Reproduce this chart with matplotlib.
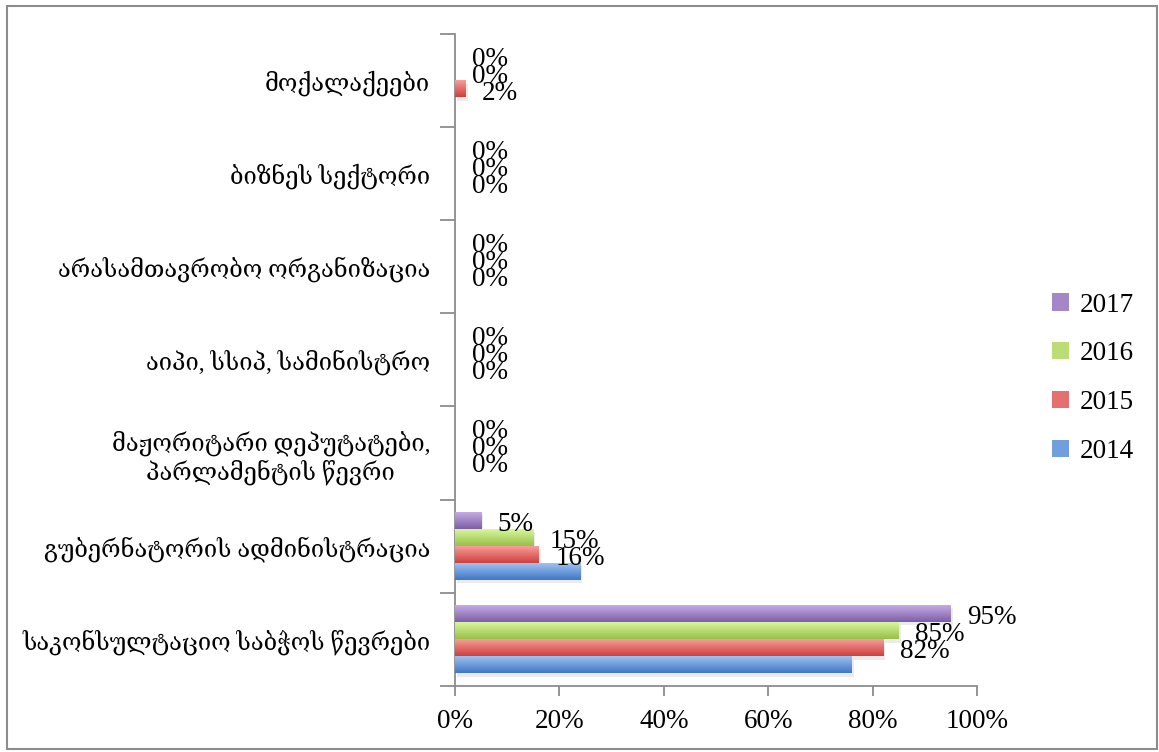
import numpy as np
import matplotlib
matplotlib.use('Agg')
import matplotlib.pyplot as plt
from matplotlib.colors import LinearSegmentedColormap
from matplotlib.patches import Rectangle

plt.rcParams['font.family'] = ['Liberation Serif', 'DejaVu Serif', 'DejaVu Sans']

# categories, bottom to top
categories = [
    'საკონსულტაციო საბჭოს წევრები',
    'გუბერნატორის ადმინისტრაცია',
    'მაჟორიტარი დეპუტატები,\nპარლამენტის წევრი',
    'აიპი, სსიპ, სამინისტრო',
    'არასამთავრობო ორგანიზაცია',
    'ბიზნეს სექტორი',
    'მოქალაქეები',
]
years = ['2014', '2015', '2016', '2017']
v2014 = [0.76, 0.24, 0.0, 0.0, 0.0, 0.0, 0.0]
v2015 = [0.82, 0.16, 0.0, 0.0, 0.0, 0.0, 0.02]
v2016 = [0.85, 0.15, 0.0, 0.0, 0.0, 0.0, 0.0]
v2017 = [0.95, 0.05, 0.0, 0.0, 0.0, 0.0, 0.0]
series = [v2014, v2015, v2016, v2017]
show_label = [False, True, True, True]
xticks = [0, 0.2, 0.4, 0.6, 0.8, 1.0]

# (light top, dark bottom)
colors = [('#a3c6f4', '#3f77c6'),
          ('#f9a3a1', '#cf3f3d'),
          ('#dcf9a0', '#98c049'),
          ('#c9b0e8', '#7d5ea6')]

fig = plt.figure(figsize=(11.59, 7.52), dpi=100)
ax = fig.add_axes([0.3926, 0.088, 0.843 - 0.3926, 0.955 - 0.088])

y = np.arange(len(categories))
h = 0.183
grad = np.linspace(0, 1, 64).reshape(-1, 1)
for i, vals in enumerate(series):
    offs = y + (i - 1.5) * h
    light, dark = colors[i]
    mid = LinearSegmentedColormap.from_list('m', [dark, light])(0.5)
    # soft shadow
    ax.barh(offs - 0.035, vals, height=h, left=0.004, color='#000000', alpha=0.08, zorder=1, linewidth=0)
    bars = ax.barh(offs, vals, height=h, color=mid, label=years[i], zorder=2, linewidth=0)
    cmap = LinearSegmentedColormap.from_list('g%d' % i, [dark, light])
    for b in bars:
        if b.get_width() <= 0:
            continue
        x0, y0 = b.get_x(), b.get_y()
        im = ax.imshow(grad, extent=[x0, x0 + b.get_width(), y0, y0 + b.get_height()],
                       origin='lower', cmap=cmap, aspect='auto', zorder=3, interpolation='bilinear')
        im.set_clip_path(b)
    if show_label[i]:
        for yy, v in zip(offs, vals):
            ax.annotate('%d%%' % round(v * 100), (v, yy), xytext=(12, -3), textcoords='offset points',
                        ha='left', va='center', fontsize=19.5, zorder=4)

ax.set_xlim(0, 1.0)
ax.set_ylim(-0.5, len(categories) - 0.5)
ax.set_xticks(xticks)
ax.set_xticklabels(['%d%%' % (t * 100) for t in xticks], fontsize=19.5)
ax.set_yticks(y)
ax.set_yticklabels(categories, fontsize=17)
for lab in ax.get_yticklabels():
    lab.set_multialignment('center')
ax.set_yticks(np.arange(-0.5, len(categories), 1.0), minor=True)
ax.tick_params(axis='y', which='major', length=0, pad=18)
ax.tick_params(axis='y', which='minor', length=11, width=1.3, color='#8c8c8c')
ax.tick_params(axis='x', which='major', length=7, width=1.3, color='#8c8c8c', pad=10)

for s in ['top', 'right']:
    ax.spines[s].set_visible(False)
for s in ['left', 'bottom']:
    ax.spines[s].set_color('#8c8c8c')
    ax.spines[s].set_linewidth(1.3)

handles, labels = ax.get_legend_handles_labels()
leg = fig.legend(handles[::-1], labels[::-1], loc='center left', bbox_to_anchor=(0.887, 0.497),
                 frameon=False, fontsize=19.5, labelspacing=0.88, handlelength=0.6, handleheight=0.6,
                 handletextpad=0.4)

fig.patches.append(Rectangle((0.006, 0.004), 0.992, 0.988, transform=fig.transFigure,
                             fill=False, edgecolor='#8c8c8c', linewidth=1.5))

fig.savefig('out.png', dpi=100)
